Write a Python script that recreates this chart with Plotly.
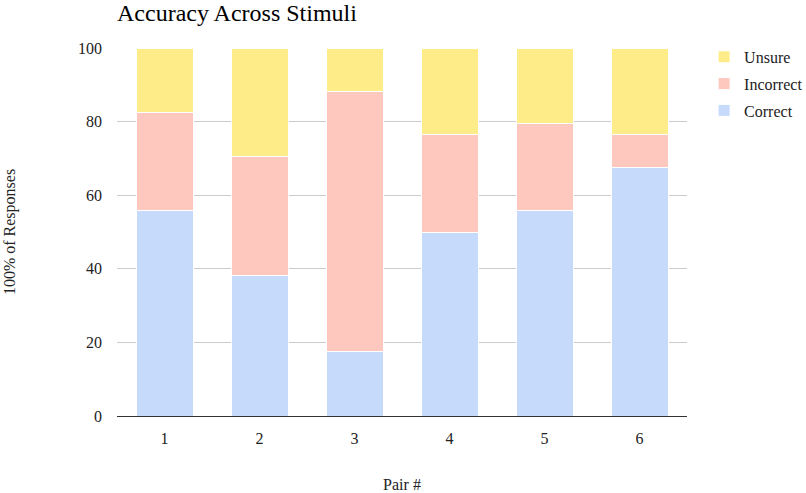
import plotly.graph_objects as go

pairs = ["1", "2", "3", "4", "5", "6"]
correct = [55.9, 38.2, 17.6, 50.0, 55.9, 67.6]
incorrect = [26.5, 32.4, 70.6, 26.5, 23.5, 8.9]
unsure = [17.6, 29.4, 11.8, 23.5, 20.6, 23.5]

series = [("Correct", correct, "#c6dafc", 3),
          ("Incorrect", incorrect, "#fec8be", 2),
          ("Unsure", unsure, "#fdec87", 1)]

fig = go.Figure()
for name, vals, col, rank in series:
    fig.add_trace(go.Bar(x=pairs, y=vals, name=name, legendgroup=name, legendrank=rank,
                         marker=dict(color=col, line=dict(color="white", width=1))))

font = "Liberation Serif, Times New Roman, serif"
fig.update_layout(
    barmode="stack", bargap=0.4,
    width=806, height=493,
    margin=dict(l=117, r=119, t=48, b=77, autoexpand=False),
    paper_bgcolor="white", plot_bgcolor="white",
    font=dict(family=font, size=16, color="#222"),
    title=dict(text="Accuracy Across Stimuli", x=117/806, xanchor="left",
               y=1 - 13/493, yanchor="middle", font=dict(size=24, color="#000")),
    legend=dict(x=1.03, y=1.022, xanchor="left", yanchor="top", traceorder="grouped",
                tracegroupgap=3, itemwidth=30, font=dict(size=16, color="#222")),
    xaxis=dict(title=dict(text="Pair #", standoff=38, font=dict(size=16)),
               showgrid=False, ticks="", showline=True, linecolor="#333", linewidth=1,
               ticklabelstandoff=8),
    yaxis=dict(title=dict(text="100% of Responses", standoff=58, font=dict(size=16)),
               range=[0, 100], dtick=20, gridcolor="#cccccc", zeroline=False,
               showline=False, ticks="", ticklabelstandoff=14),
)
fig.write_html("out.html")
